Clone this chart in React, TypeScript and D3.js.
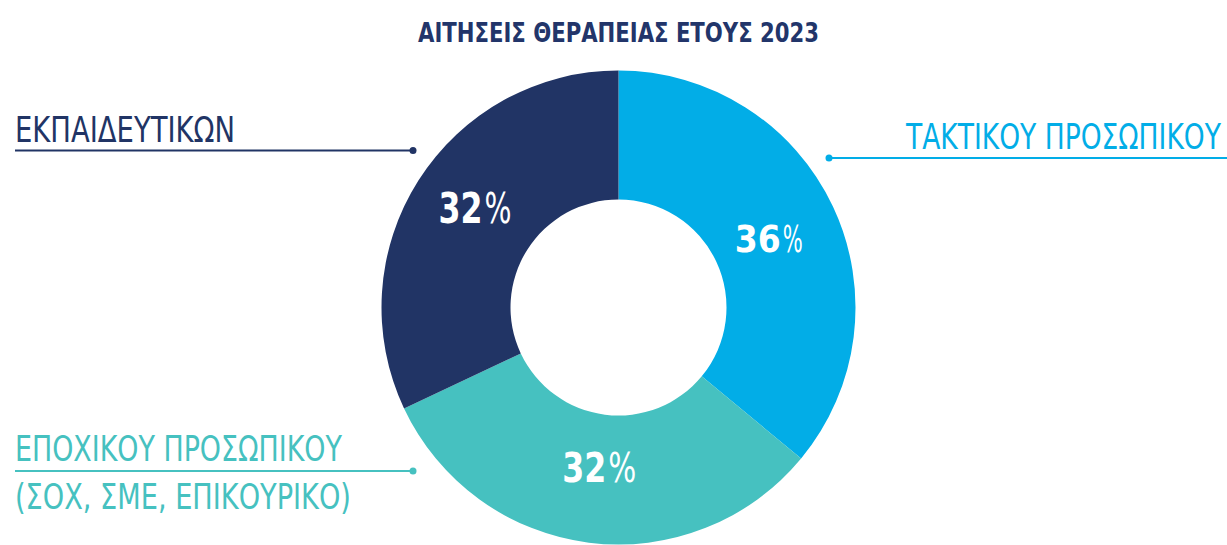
import React, { useLayoutEffect, useRef, useState } from "react";
import * as d3 from "d3";

const title = "ΑΙΤΗΣΕΙΣ ΘΕΡΑΠΕΙΑΣ ΕΤΟΥΣ 2023";
const categories = ["ΤΑΚΤΙΚΟΥ ΠΡΟΣΩΠΙΚΟΥ", "ΕΠΟΧΙΚΟΥ ΠΡΟΣΩΠΙΚΟΥ", "ΕΚΠΑΙΔΕΥΤΙΚΩΝ"];
const subLabels = ["", "(ΣΟΧ, ΣΜΕ, ΕΠΙΚΟΥΡΙΚΟ)", ""];
const values = [36, 32, 32];
const colors = ["#02ADE7", "#46C1C0", "#213465"];

const W = 1227;
const H = 545;
const cx = 618.5;
const cy = 307.5;
const outerR = 237;
const innerR = 108;
const FONT = "'Liberation Sans Narrow', 'DejaVu Sans Condensed', 'Roboto', sans-serif";
const BOLD = "'DejaVu Sans Condensed', 'Liberation Sans Narrow', sans-serif";

// label layout (style config)
const pctLayout = [
  { r: 165, size: 37, numLen: 46, pctLen: 20, split: 13, dx: 0, dy: 1 },
  { r: 161, size: 41, numLen: 44, pctLen: 28, split: 7, dx: 1, dy: 0 },
  { r: 174, size: 42, numLen: 44, pctLen: 27, split: 7, dx: 4, dy: -6 },
];
const legendLayout = [
  { x: 906, y: 149, len: 315, lineY: 158, x1: 829, x2: 1227, dotX: 829, subY: 0, subLen: 0 },
  { x: 15, y: 461, len: 327, lineY: 471, x1: 15, x2: 413, dotX: 413, subY: 509, subLen: 336 },
  { x: 15, y: 142, len: 220, lineY: 150.5, x1: 15, x2: 413, dotX: 413, subY: 0, subLen: 0 },
];

type FitProps = {
  x: number;
  y: number;
  w: number;
  anchor?: "start" | "middle" | "end";
  size: number;
  weight?: string;
  family: string;
  fill: string;
  children: React.ReactNode;
};

function FitText({ x, y, w, anchor = "start", size, weight = "normal", family, fill, children }: FitProps) {
  const ref = useRef<SVGTextElement>(null);
  const [s, setS] = useState(1);
  useLayoutEffect(() => {
    if (ref.current) {
      const nat = ref.current.getComputedTextLength();
      if (nat > 0) setS(w / nat);
    }
  }, [w, children, size, family]);
  return (
    <text
      ref={ref}
      transform={`translate(${x},${y}) scale(${s},1)`}
      x={0}
      y={0}
      textAnchor={anchor}
      fontSize={size}
      fontWeight={weight}
      fontFamily={family}
      fill={fill}
    >
      {children}
    </text>
  );
}

export default function App() {
  const pie = d3.pie<number>().sort(null).value((d) => d);
  const arcs = pie(values);
  const arcGen = d3.arc<d3.PieArcDatum<number>>().innerRadius(innerR).outerRadius(outerR);

  return (
    <svg
      width={W}
      height={H}
      style={{ position: "absolute", left: 0, top: 0, background: "#fff" }}
      fontFamily={FONT}
    >
      <FitText x={W / 2 + 5} y={42} w={401} anchor="middle" size={27} weight="bold" family={BOLD} fill="#22356A">
        {title}
      </FitText>
      <g transform={`translate(${cx},${cy})`}>
        {arcs.map((a, i) => (
          <path key={i} d={arcGen(a) as string} fill={colors[i]} />
        ))}
        {arcs.map((a, i) => {
          const L = pctLayout[i];
          const lab = d3.arc<d3.PieArcDatum<number>>().innerRadius(L.r).outerRadius(L.r);
          const [x, y] = lab.centroid(a);
          const bx = x + L.dx + L.split;
          const by = y + L.dy + L.size * 0.36;
          return (
            <g key={"p" + i}>
              <FitText x={bx} y={by} w={L.numLen} anchor="end" size={L.size} weight="bold" family={BOLD} fill="#fff">
                {String(values[i])}
              </FitText>
              <FitText x={bx + 2} y={by} w={L.pctLen} anchor="start" size={L.size} family={FONT} fill="#fff">
                %
              </FitText>
            </g>
          );
        })}
      </g>
      {categories.map((c, i) => {
        const L = legendLayout[i];
        return (
          <g key={"l" + i}>
            <FitText x={L.x} y={L.y} w={L.len} size={36} family={FONT} fill={colors[i]}>
              {c}
            </FitText>
            <line x1={L.x1} x2={L.x2} y1={L.lineY} y2={L.lineY} stroke={colors[i]} strokeWidth={2} />
            <circle cx={L.dotX} cy={L.lineY} r={3.5} fill={colors[i]} />
            {subLabels[i] && (
              <FitText x={L.x} y={L.subY} w={L.subLen} size={36} family={FONT} fill={colors[i]}>
                {subLabels[i]}
              </FitText>
            )}
          </g>
        );
      })}
    </svg>
  );
}
